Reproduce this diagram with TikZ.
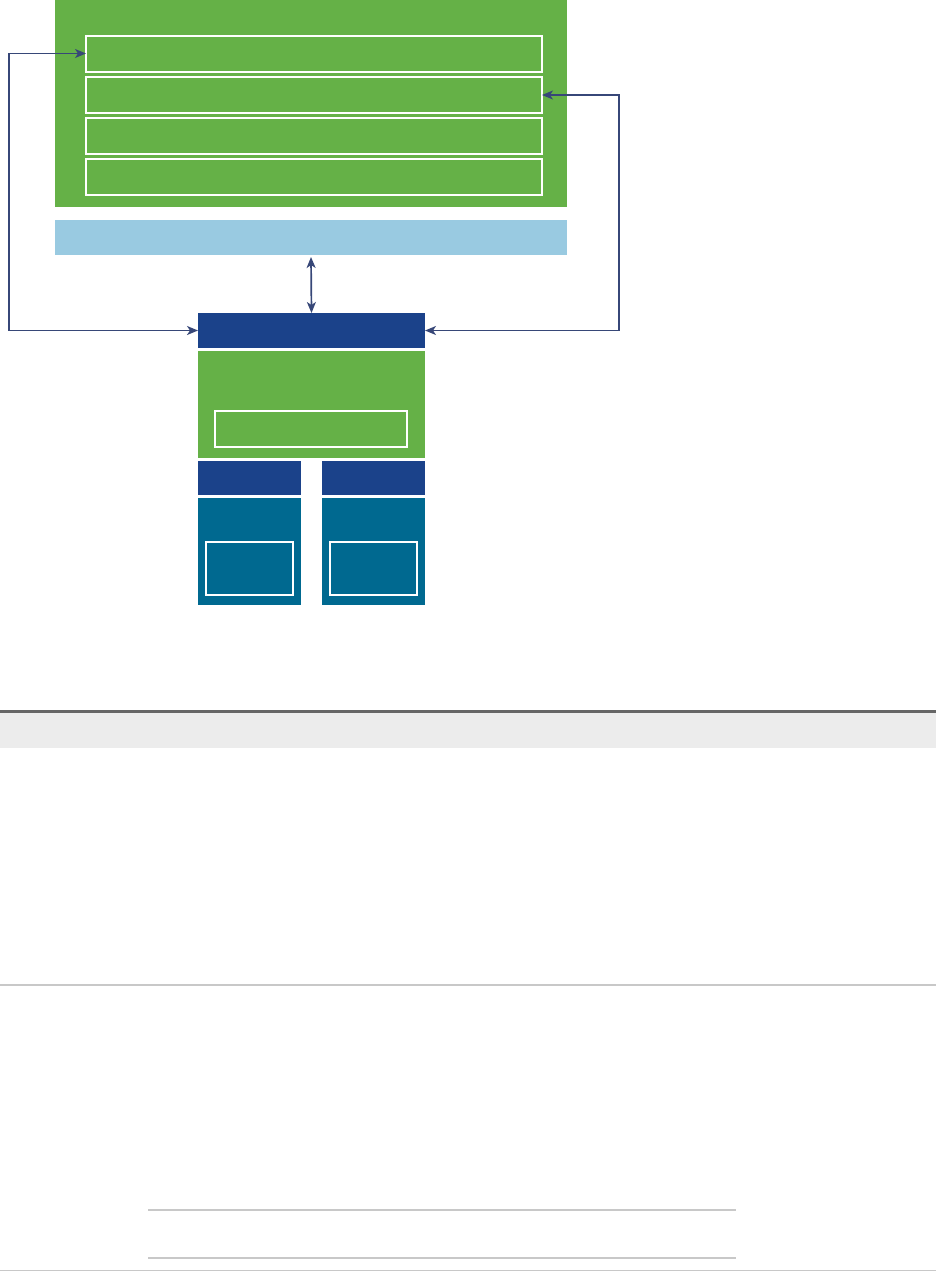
\documentclass[tikz,border=0pt]{standalone}
\usetikzlibrary{arrows.meta, positioning}
\definecolor{appgreen}{RGB}{101,177,71}
\definecolor{buslight}{RGB}{153,202,225}
\definecolor{hostnavy}{RGB}{27,66,138}
\definecolor{drvteal}{RGB}{0,105,144}
\definecolor{linkcolor}{RGB}{55,71,120}
\definecolor{rulegray}{RGB}{102,102,102}
\definecolor{bandgray}{RGB}{236,236,236}
\definecolor{thingray}{RGB}{200,200,200}
\tikzset{
  blk/.style   = {rectangle, draw=none, inner sep=0pt, outer sep=0pt},
  wbox/.style  = {rectangle, draw=white, line width=2pt, inner sep=0pt, outer sep=0pt},
  link/.style  = {{Stealth[length=11pt,width=9pt,inset=3pt]}-{Stealth[length=11pt,width=9pt,inset=3pt]},
                  line width=1.7pt, color=linkcolor},
  thin/.style  = {thingray, line width=1.5pt},
}

\begin{document}
\begin{tikzpicture}[x=1pt, y=-1pt]
  \useasboundingbox (0,0) rectangle (936,1272);
  % application block with its four layers
  \node[blk, fill=appgreen, minimum width=512pt, minimum height=207pt] (app) at (311,103.5) {};
  \foreach \n/\y in {bar1/53.5, bar2/95, bar3/136, bar4/177} {
    \node[wbox, fill=appgreen, minimum width=456pt, minimum height=36pt] (\n) at (314,\y) {};
  }
  \node[blk, fill=buslight, minimum width=512pt, minimum height=35pt] (bus) at (311,237.5) {};
  % host stack
  \node[blk, fill=hostnavy, minimum width=227pt, minimum height=35pt] (host) at (311.5,330.5) {};
  \node[blk, fill=appgreen, minimum width=227pt, minimum height=107pt] (core) at (311.5,404.5) {};
  \node[wbox, fill=appgreen, minimum width=192pt, minimum height=36pt] (corein) at (311,429) {};
  \foreach \n/\x in {l/249, r/373.5} {
    \node[blk, fill=hostnavy, minimum width=103pt, minimum height=34pt] (port\n) at (\x,478) {};
    \node[blk, fill=drvteal, minimum width=103pt, minimum height=107pt] (drv\n) at (\x,551.5) {};
    \node[wbox, fill=drvteal, minimum width=87pt, minimum height=53pt] (drvin\n) at (\x,568.5) {};
  }
  % links
  \coordinate (lc) at (9,330.5);
  \coordinate (rc) at (619,330.5);
  \draw[link] (bar1.west) -| (lc) -- (host.west);
  \draw[link] (bar2.east) -| (rc) -- (host.east);
  \draw[link] ([yshift=-2pt]bus.south) -- (host.north);
  % table rules below
  \fill[bandgray] (0,713) rectangle (936,748);
  \draw[rulegray, line width=3pt] (0,711) -- (936,711);
  \draw[thin] (0,985) -- (936,985);
  \draw[thin] (148,1210) -- (736,1210);
  \draw[thin] (148,1258) -- (736,1258);
  \draw[thin] (0,1270.5) -- (936,1270.5);
\end{tikzpicture}
\end{document}
